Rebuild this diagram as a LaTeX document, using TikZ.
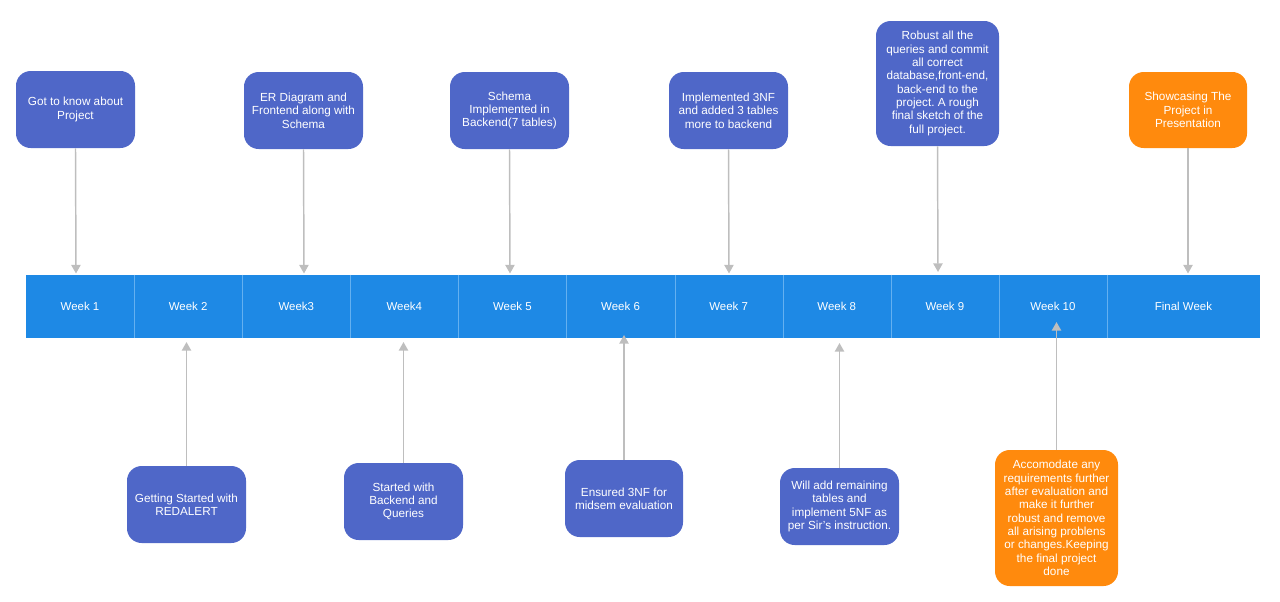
\documentclass[tikz,border=0pt]{standalone}
\usepackage{fontspec}
\setmainfont{Liberation Sans}
\usetikzlibrary{arrows.meta}
\frenchspacing

\definecolor{taskblue}{RGB}{79,103,200}
\definecolor{taskorange}{RGB}{255,138,13}
\definecolor{barblue}{RGB}{30,137,229}
\definecolor{barline}{RGB}{100,176,240}
\definecolor{linkgray}{RGB}{190,190,190}

\tikzset{
  task/.style={rectangle, rounded corners=11pt, fill=taskblue, text=white,
    align=center, inner sep=0pt, minimum width=89.25pt, minimum height=57.75pt,
    font=\fontsize{8.8}{10}\selectfont},
  goal/.style={task, fill=taskorange},
  weekcell/.style={rectangle, fill=barblue, text=white, inner sep=0pt,
    minimum height=47.25pt, font=\fontsize{8.6}{10}\selectfont},
  divider/.style={draw=barline, line width=0.6pt},
  link/.style={draw=linkgray, line width=1.1pt,
    -{Triangle[width=7pt,length=6.5pt]}}
}

\begin{document}
\begin{tikzpicture}[x=0.75pt, y=-0.75pt]
\useasboundingbox (0,0) rectangle (1280,601);

% timeline bar
\foreach \i/\lab in {1/Week 1, 2/Week 2, 3/Week3, 4/Week4, 5/Week 5,
                     6/Week 6, 7/Week 7, 8/Week 8, 9/Week 9, 10/Week 10} {
  \node[weekcell, minimum width=81.2pt] (w\i) at ({26+108.1*(\i-0.5)},306.5) {\lab};
}
\node[weekcell, minimum width=115pt] (wf) at (1183.5,306.5) {Final Week};
\foreach \i in {1,...,10} {
  \draw[divider] (w\i.north east) -- (w\i.south east);
}

% tasks above the bar
\node[task] (t1) at (75.5,109.5) {Got to know about\\Project};
\node[task] (t2) at (303.5,110.5) {ER Diagram and\\Frontend along with\\Schema};
\node[task] (t3) at (509.5,110.5) {Schema\\Implemented in\\Backend(7 tables)};
\node[task] (t4) at (728.5,110.5) {Implemented 3NF\\and added 3 tables\\more to backend};
\node[task, minimum width=92.25pt, minimum height=93.75pt] (t5) at (937.5,83.5)
  {Robust all the\\queries and commit\\all correct\\database,front-end,\\back-end to the\\project. A rough\\final sketch of the\\full project.};
\node[goal, minimum width=88.5pt, minimum height=57pt] (t6) at (1188,110)
  {Showcasing The\\Project in\\Presentation};

% tasks below the bar
\node[task] (b1) at (186.5,504.5) {Getting Started with\\REDALERT};
\node[task] (b2) at (403.5,501.5) {Started with\\Backend and\\Queries};
\node[task, minimum width=88.5pt] (b3) at (624,498.5) {Ensured 3NF for\\midsem evaluation};
\node[task] (b4) at (839.5,506.5) {Will add remaining\\tables and\\implement 5NF as\\per Sir's instruction.};
\node[goal, minimum width=92.25pt, minimum height=102pt] (b5) at (1056.5,518)
  {Accomodate any\\requirements further\\after evaluation and\\make it further\\robust and remove\\all arising problens\\or changes.Keeping\\the final project\\done};

% arrow tips on the bar
\coordinate (a1) at (76,273.5);
\coordinate (a2) at (304,273.5);
\coordinate (a3) at (510,273.5);
\coordinate (a4) at (729,273.5);
\coordinate (a5) at (938,272);
\coordinate (a6) at (1188,273.5);
\coordinate (c1) at (186.5,342);
\coordinate (c2) at (403.5,342);
\coordinate (c3) at (624,335);
\coordinate (c4) at (839.5,343);
\coordinate (c5) at (1056.5,322);

% connectors
\draw[link] (t1.south) -- (a1);
\draw[link] (t2.south) -- (a2);
\draw[link] (t3.south) -- (a3);
\draw[link] (t4.south) -- (a4);
\draw[link] (t5.south) -- (a5);
\draw[link] (t6.south) -- (a6);
\draw[link] (b1.north) -- (c1);
\draw[link] (b2.north) -- (c2);
\draw[link] (b3.north) -- (c3);
\draw[link] (b4.north) -- (c4);
\draw[link] (b5.north) -- (c5);
\end{tikzpicture}
\end{document}
